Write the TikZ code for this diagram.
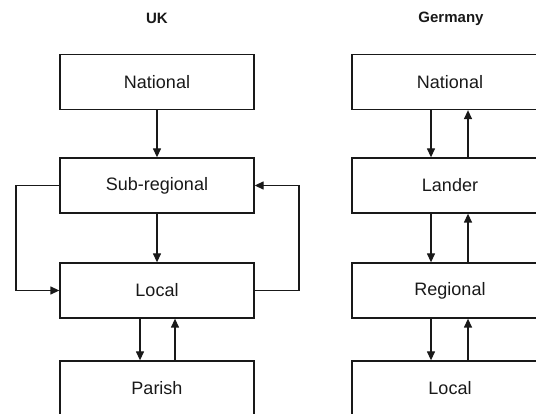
\documentclass[tikz,border=0pt]{standalone}
\usepackage{fontspec}
\setmainfont{Liberation Sans}
\usetikzlibrary{arrows.meta}
\begin{document}
\begin{tikzpicture}[x=1pt,y=-1pt,
  level/.style={draw=black!90, line width=1.3pt, minimum height=55pt, inner sep=0pt,
    font=\fontsize{18}{20}\selectfont, text=black!90},
  ukbox/.style={level, minimum width=194pt},
  debox/.style={level, minimum width=196pt},
  heading/.style={font=\fontsize{15}{17}\selectfont\bfseries, text=black!90},
  link/.style={draw=black!90, line width=1.3pt, -{Triangle[length=9pt,width=8pt]}}]
\useasboundingbox (0,0) rectangle (536,414);
\clip (0,0) rectangle (536,414);

% column headings
\node[heading] (ukt) at (157,18.5) {UK};
\node[heading] (det) at (451,18.5) {Germany};

% UK levels
\node[ukbox] (ukn) at (157,82)    {National};
\node[ukbox] (uks) at (157,185.5) {Sub-regional};
\node[ukbox] (ukl) at (157,290.5) {Local};
\node[ukbox] (ukp) at (157,388.5) {Parish};

% German levels
\node[debox] (den) at (450,82)    {National};
\node[debox] (ded) at (450,185.5) {Lander};
\node[debox] (der) at (450,290.5) {Regional};
\node[debox] (del) at (450,388.5) {Local};

% UK connectors
\draw[link] (ukn) -- (uks);
\draw[link] (uks) -- (ukl);
\draw[link] ([xshift=-17pt]ukl.south) -- ([xshift=-17pt]ukp.north);
\draw[link] ([xshift=18pt]ukp.north) -- ([xshift=18pt]ukl.south);
\coordinate (lloop) at (16,0);
\coordinate (rloop) at (299,0);
\draw[link] (uks.west) -- (uks.west -| lloop) -- (ukl.west -| lloop) -- (ukl.west);
\draw[link] (ukl.east) -- (ukl.east -| rloop) -- (uks.east -| rloop) -- (uks.east);

% German connectors: each pair of adjacent levels linked both ways
\foreach \a/\b in {den/ded, ded/der, der/del} {
  \draw[link] ([xshift=-19pt]\a.south) -- ([xshift=-19pt]\b.north);
  \draw[link] ([xshift=18pt]\b.north) -- ([xshift=18pt]\a.south);
}
\end{tikzpicture}
\end{document}
